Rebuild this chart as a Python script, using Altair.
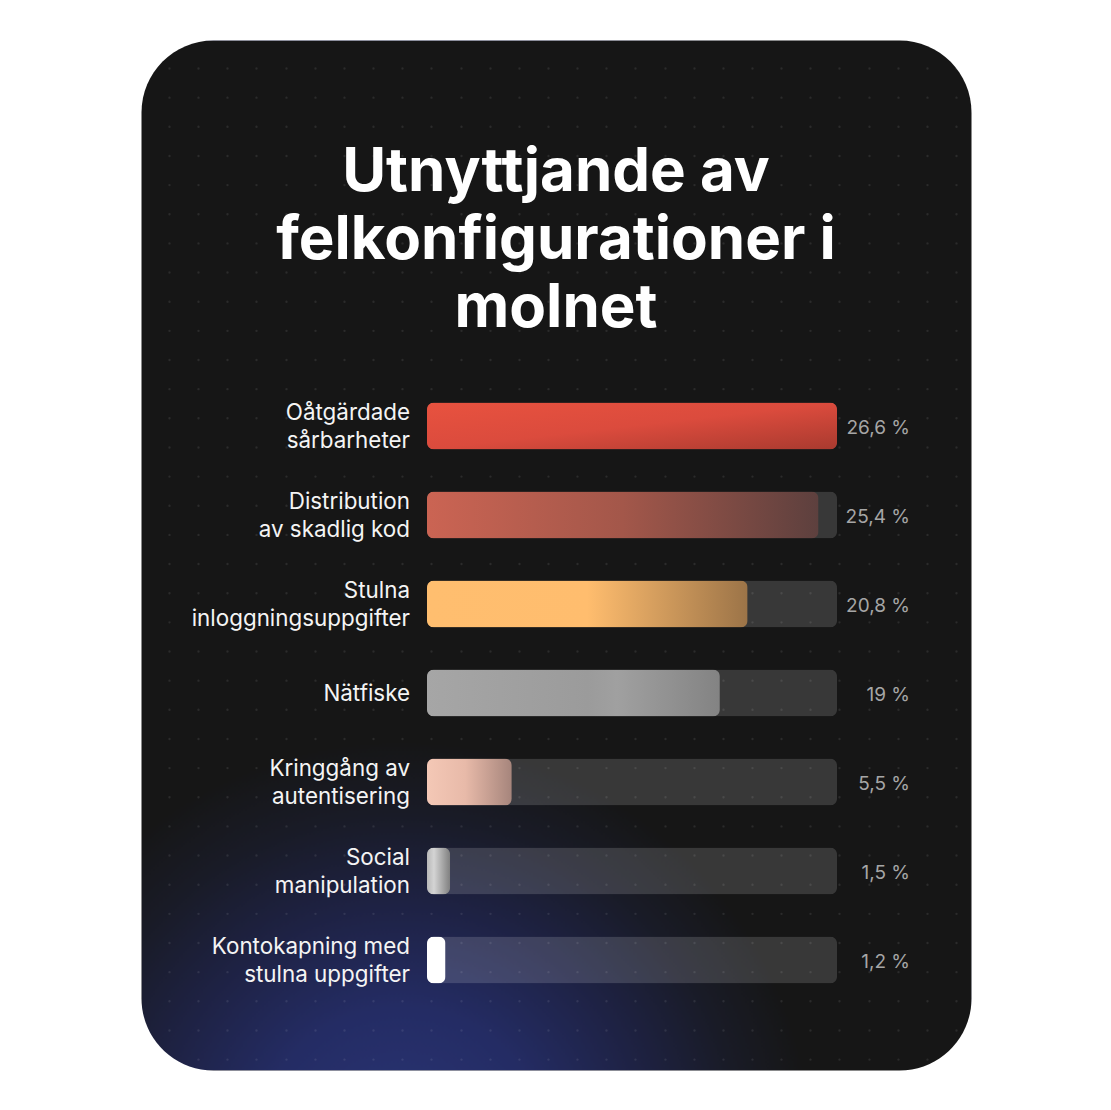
import altair as alt
import pandas as pd

# ---- data ----
categories = [
    "Oåtgärdade\nsårbarheter",
    "Distribution\nav skadlig kod",
    "Stulna\ninloggningsuppgifter",
    "Nätfiske",
    "Kringgång av\nautentisering",
    "Social\nmanipulation",
    "Kontokapning med\nstulna uppgifter",
]
values = [26.6, 25.4, 20.8, 19.0, 5.5, 1.5, 1.2]

title_lines = ["Utnyttjande av", "felkonfigurationer i", "molnet"]

# ---- styles ----
bar_gradients = [
    dict(stops=[(0, "#e8523f"), (0.5, "#db4b3d"), (1, "#a93a2f")], x2=1, y2=1),
    dict(stops=[(0, "#cb6453"), (0.5, "#a3574a"), (1, "#5d403e")], x2=1, y2=0),
    dict(stops=[(0, "#ffbe6f"), (0.5, "#ffbd6e"), (1, "#9c7448")], x2=1, y2=0),
    dict(stops=[(0, "#a6a6a6"), (0.55, "#9b9b9b"), (0.65, "#a0a0a0"), (1, "#838383")], x2=1, y2=0),
    dict(stops=[(0, "#f4c8b6"), (0.45, "#e8baa9"), (1, "#a6857c")], x2=1, y2=0),
    dict(stops=[(0, "#b8b8b8"), (0.3, "#d4d4d4"), (1, "#808080")], x2=1, y2=0),
    dict(stops=[(0, "#ffffff"), (1, "#ffffff")], x2=1, y2=0),
]

W, H = 830, 1030
grid_step = 29.15
grid_values = [28 + grid_step * k for k in range(28)]

lines = [c.split("\n") for c in categories]
df = pd.DataFrame({
    "category": categories,
    "value": values,
    "l1": [l[0] for l in lines],
    "l2": [l[1] if len(l) > 1 else "" for l in lines],
    "nlines": [len(l) for l in lines],
})
base = alt.Chart(df)

y_enc = alt.Y(
    "category:N",
    sort=categories,
    scale=alt.Scale(range=[341.5, 964.5], paddingInner=0.472, paddingOuter=0.236),
    axis=None,
)
x_scale = alt.Scale(domain=[0, max(values)], range=[286, 696])

# dotted background grid (axis gridlines drawn as dots)
grid = (
    base.transform_calculate(gx="0")
    .mark_point(opacity=0)
    .encode(
        x=alt.X(
            "gx:Q",
            scale=alt.Scale(domain=[0, W], range=[0, W]),
            axis=alt.Axis(
                orient="top",
                values=grid_values,
                grid=True,
                gridColor="#ffffff",
                gridOpacity=0.09,
                gridWidth=2.4,
                gridCap="round",
                gridDash=[0.01, grid_step - 0.01],
                gridDashOffset=grid_step - 28,
                domain=False,
                ticks=False,
                labels=False,
                title=None,
            ),
        )
    )
)

track = (
    base.transform_joinaggregate(vmax="max(value)")
    .mark_bar(fill="#ffffff", fillOpacity=0.15, cornerRadius=7)
    .encode(x=alt.X("vmax:Q", scale=x_scale, axis=None), y=y_enc)
)

bars = []
for cat, g in zip(categories, bar_gradients):
    grad = alt.LinearGradient(
        gradient="linear",
        stops=[alt.GradientStop(offset=o, color=c) for o, c in g["stops"]],
        x1=0, y1=0, x2=g["x2"], y2=g["y2"],
    )
    bars.append(
        base.transform_filter(alt.datum.category == cat)
        .mark_bar(fill=grad, cornerRadius=7)
        .encode(x=alt.X("value:Q", scale=x_scale, axis=None), y=y_enc)
    )

label_style = dict(align="right", baseline="middle", font="Inter", fontSize=22.4, color="#f4f4f4")
label_line1 = base.transform_filter("datum.nlines > 1").mark_text(dy=-13, **label_style).encode(
    x=alt.value(269), y=y_enc, text="l1:N")
label_line2 = base.transform_filter("datum.nlines > 1").mark_text(dy=15, **label_style).encode(
    x=alt.value(269), y=y_enc, text="l2:N")
label_single = base.transform_filter("datum.nlines == 1").mark_text(dy=1, **label_style).encode(
    x=alt.value(269), y=y_enc, text="l1:N")

value_labels = (
    base.transform_calculate(
        label="replace(format(datum.value, '.1~f'), '.', ',') + ' %'"
    )
    .mark_text(align="right", baseline="middle", font="Inter", fontSize=19,
               color="#a6a6a6", dy=2)
    .encode(x=alt.value(769), y=y_enc, text="label:N")
)

fill_expr = (
    "{gradient: 'radial', x1: 0.349, y1: 1.08, x2: 0.349, y2: 1.08, r1: 0, r2: 0.4, "
    "stops: [{offset: 0, color: '#2a3576'}, {offset: 0.35, color: '#242c64'}, "
    "{offset: 0.6, color: '#1e2244'}, {offset: 0.82, color: '#191b27'}, "
    "{offset: 1, color: '#161616'}]}"
)

chart = (
    alt.layer(grid, track, *bars, label_line1, label_line2, label_single, value_labels)
    .resolve_scale(x="independent")
    .properties(
        width=W,
        height=H,
        title=alt.TitleParams(
            text=title_lines,
            font="Inter",
            fontSize=60,
            fontWeight="bold",
            color="#ffffff",
            anchor="middle",
            frame="group",
            baseline="alphabetic",
            lineHeight=68,
            offset=-347,
        ),
        background="#ffffff",
        padding={"left": 141, "top": 40, "right": 140, "bottom": 40},
        autosize=alt.AutoSizeParams(type="none"),
        view=alt.ViewBackground(fill={"expr": fill_expr}, cornerRadius=72, stroke="transparent"),
    )
)

chart.save("out.html", embed_options={"renderer": "svg", "actions": False})
